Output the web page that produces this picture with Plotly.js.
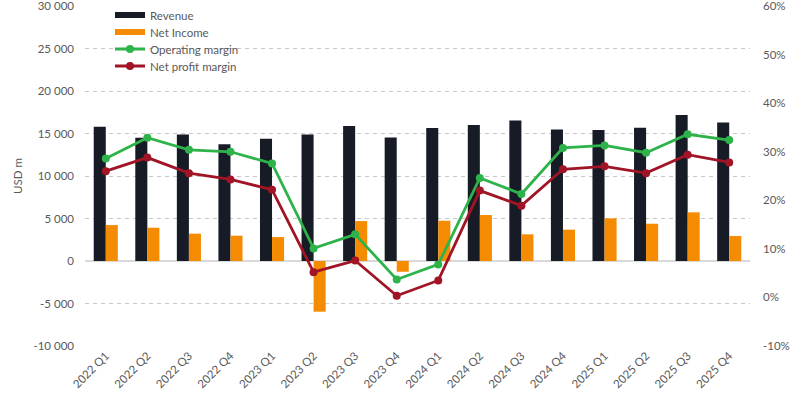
<!DOCTYPE html>
<html>
<head>
<meta charset="utf-8">
<script src="https://cdn.plot.ly/plotly-3.0.1.min.js"></script>
<style>html,body{margin:0;padding:0;background:#fff;}#chart{width:803px;height:399px;}</style>
</head>
<body>
<div id="chart"></div>
<script>
const quarters = ["2022 Q1","2022 Q2","2022 Q3","2022 Q4","2023 Q1","2023 Q2","2023 Q3","2023 Q4","2024 Q1","2024 Q2","2024 Q3","2024 Q4","2025 Q1","2025 Q2","2025 Q3","2025 Q4"];
const revenue = [15800,14500,14900,13730,14390,14900,15880,14550,15650,16000,16550,15490,15410,15690,17180,16310];
const netIncome = [4235,3920,3220,2980,2820,-5960,4700,-1260,4740,5410,3140,3690,5020,4390,5730,2940];
const operatingMargin = [28.6,32.9,30.4,30.0,27.6,10.1,13.0,3.7,6.8,24.6,21.3,30.8,31.3,29.8,33.6,32.4];
const netProfitMargin = [26.0,28.8,25.6,24.3,22.2,5.2,7.6,0.35,3.5,22.0,18.9,26.4,27.0,25.6,29.4,27.8];
const leftTickVals = [-10000,-5000,0,5000,10000,15000,20000,25000,30000];
const leftTickText = ["-10 000","-5 000","0","5 000","10 000","15 000","20 000","25 000","30 000"];
const rightTickVals = [-10,0,10,20,30,40,50,60];
const rightTickText = ["-10%","0%","10%","20%","30%","40%","50%","60%"];

const FAM = "Lato, 'Open Sans', sans-serif";
const TXT = "#595959";
const FS = 11.5;
const C_REV = "#161b26", C_NI = "#f58b00", C_OM = "#2db34a", C_NPM = "#a01426";

const traces = [
  {type:"bar", name:"Revenue", x:quarters, y:revenue, marker:{color:C_REV}, yaxis:"y", showlegend:false},
  {type:"bar", name:"Net Income", x:quarters, y:netIncome, marker:{color:C_NI}, yaxis:"y", showlegend:false},
  {type:"scatter", mode:"lines+markers", name:"Operating margin", x:quarters, y:operatingMargin, yaxis:"y2",
   line:{color:C_OM, width:2.8}, marker:{color:C_OM, size:8}, showlegend:false},
  {type:"scatter", mode:"lines+markers", name:"Net profit margin", x:quarters, y:netProfitMargin, yaxis:"y2",
   line:{color:C_NPM, width:2.8}, marker:{color:C_NPM, size:8}, showlegend:false},
  // legend-only entries (wide bar swatches like the original)
  {type:"scatter", mode:"lines", name:"Revenue", x:[null], y:[null], line:{color:C_REV, width:6}, legend:"legend"},
  {type:"scatter", mode:"lines", name:"Net Income", x:[null], y:[null], line:{color:C_NI, width:6}, legend:"legend2"},
  {type:"scatter", mode:"lines+markers", name:"Operating margin", x:[null], y:[null], yaxis:"y2", line:{color:C_OM, width:2.8}, marker:{color:C_OM, size:8}, legend:"legend3"},
  {type:"scatter", mode:"lines+markers", name:"Net profit margin", x:[null], y:[null], yaxis:"y2", line:{color:C_NPM, width:2.8}, marker:{color:C_NPM, size:8}, legend:"legend4"}
];

function leg(y){
  return {x:0.0376, y:y, xanchor:"left", yanchor:"middle", bgcolor:"rgba(0,0,0,0)", font:{family:FAM, size:FS, color:TXT}, itemwidth:30};
}

const layout = {
  width:803, height:399,
  margin:{l:85, r:53, t:6, b:53, autoexpand:false},
  paper_bgcolor:"#fff", plot_bgcolor:"#fff",
  font:{family:FAM, size:FS, color:TXT},
  barmode:"group", bargap:0.42, bargroupgap:0,
  showlegend:true,
  legend:leg(0.9735), legend2:leg(0.9235), legend3:leg(0.8735), legend4:leg(0.8235),
  xaxis:{type:"category", range:[-0.5, 15.5], tickangle:-45, showgrid:false, showline:false, ticks:"", tickfont:{family:FAM, size:FS, color:TXT}, automargin:false},
  yaxis:{range:[-10000,30010], tickvals:leftTickVals, ticktext:leftTickText, showgrid:true, gridcolor:"#c8c8c8", griddash:"4px,4px", gridwidth:1,
         zeroline:true, zerolinecolor:"#d9d9d9", zerolinewidth:1.5, showline:false, ticks:"", ticklabelstandoff:10, ticklabeloverflow:"allow",
         title:{text:"USD m", font:{family:FAM, size:FS, color:TXT}, standoff:8}, automargin:false},
  yaxis2:{range:[-10,60.02], overlaying:"y", side:"right", tickvals:rightTickVals, ticktext:rightTickText, showgrid:false, zeroline:false, showline:false, ticks:"", ticklabelstandoff:12, ticklabeloverflow:"allow", automargin:false}
};

Plotly.newPlot("chart", traces, layout, {displayModeBar:false, staticPlot:true});
</script>
</body>
</html>
